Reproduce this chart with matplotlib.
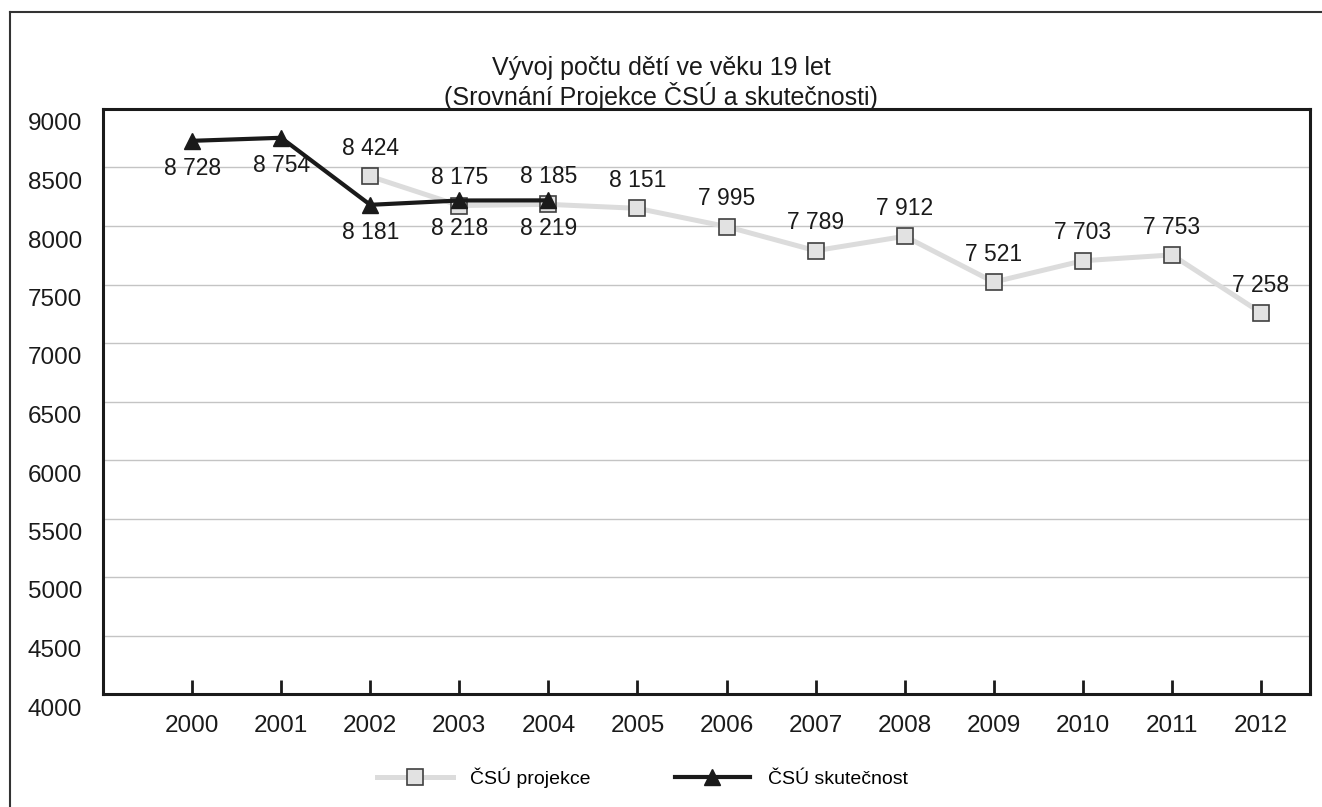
import matplotlib
matplotlib.use("Agg")
import matplotlib.pyplot as plt
from matplotlib import font_manager
from matplotlib.lines import Line2D
from matplotlib.transforms import ScaledTranslation

plt.rcParams["font.family"] = ["Liberation Sans", "DejaVu Sans"]

years = list(range(2000, 2013))
proj_years = [2002, 2003, 2004, 2005, 2006, 2007, 2008, 2009, 2010, 2011, 2012]
proj_values = [8424, 8175, 8185, 8151, 7995, 7789, 7912, 7521, 7703, 7753, 7258]
real_years = [2000, 2001, 2002, 2003, 2004]
real_values = [8728, 8754, 8181, 8218, 8219]
y_ticks = list(range(4000, 9001, 500))

title = "Vývoj počtu dětí ve věku 19 let\n(Srovnání Projekce ČSÚ a skutečnosti)"


def fmt(v):
    return f"{v:,}".replace(",", " ")


def main() -> None:
    fig = plt.figure(figsize=(13.22, 8.07), dpi=100)
    ax = fig.add_axes([103 / 1322, 1 - 694 / 807, (1310 - 103) / 1322, (694 - 109) / 807])

    fs_lab = 16.5   # data labels
    fs_tick = 17.5
    fs_title = 18.0

    # legend text in the original is a narrow face
    names = {f.name for f in font_manager.fontManager.ttflist}
    if "Liberation Sans Narrow" in names:
        leg_prop = {"family": "Liberation Sans Narrow", "size": 16.5}
        leg_kw = dict(handlelength=3.3, handletextpad=0.75, columnspacing=3.6)
    else:
        leg_prop = {"family": "Liberation Sans", "size": 14}
        leg_kw = dict(handlelength=3.9, handletextpad=0.9, columnspacing=4.3)

    ax.plot(proj_years, proj_values, color="#dcdcdc", lw=3.6, marker="s", ms=11,
            mfc="#e2e2e2", mec="#404040", mew=1.2, zorder=3, label="ČSÚ projekce")
    ax.plot(real_years, real_values, color="#1a1a1a", lw=3.0, marker="^", ms=12,
            mfc="#1a1a1a", mec="#1a1a1a", zorder=4, label="ČSÚ skutečnost")

    for x, v in zip(proj_years, proj_values):
        ax.annotate(fmt(v), (x, v), xytext=(0, 20), textcoords="offset points",
                    ha="center", va="center", fontsize=fs_lab, color="#1a1a1a", zorder=5)
    for x, v in zip(real_years, real_values):
        ax.annotate(fmt(v), (x, v), xytext=(0, -20), textcoords="offset points",
                    ha="center", va="center", fontsize=fs_lab, color="#1a1a1a", zorder=5)

    ax.set_xlim(1999.0, 2012.55)
    ax.set_ylim(4000, 9000)
    ax.set_xticks(years)
    ax.set_xticklabels([str(y) for y in years], fontsize=fs_tick, color="#1a1a1a")
    ax.set_yticks(y_ticks)
    ax.set_yticklabels([str(t) for t in y_ticks], fontsize=fs_tick, color="#1a1a1a")
    ax.tick_params(axis="x", direction="in", length=10, width=2, color="#1a1a1a", pad=15)
    ax.tick_params(axis="y", length=0, pad=15)
    offset = ScaledTranslation(0, -13 / 100, fig.dpi_scale_trans)
    for lab in ax.get_yticklabels():
        lab.set_transform(lab.get_transform() + offset)

    ax.grid(axis="y", color="#c4c4c4", lw=1.0)
    ax.set_axisbelow(True)
    for sp in ax.spines.values():
        sp.set_color("#1a1a1a")
        sp.set_linewidth(2.2)

    fig.text(0.5, 1 - 83 / 807, title, ha="center", va="center", fontsize=fs_title,
             color="#1a1a1a", linespacing=1.12)

    fig.legend(loc="center", bbox_to_anchor=(0.486, 1 - 778 / 807), ncol=2, frameon=False,
               prop=leg_prop, **leg_kw)

    # outer frame (top and left edges only)
    fig.add_artist(Line2D([10 / 1322, 1], [1 - 12 / 807, 1 - 12 / 807],
                          transform=fig.transFigure, color="#333333", lw=1.5))
    fig.add_artist(Line2D([10 / 1322, 10 / 1322], [0, 1 - 12 / 807],
                          transform=fig.transFigure, color="#333333", lw=1.5))

    fig.savefig("out.png", dpi=100)
    plt.close(fig)


if __name__ == "__main__":
    main()
